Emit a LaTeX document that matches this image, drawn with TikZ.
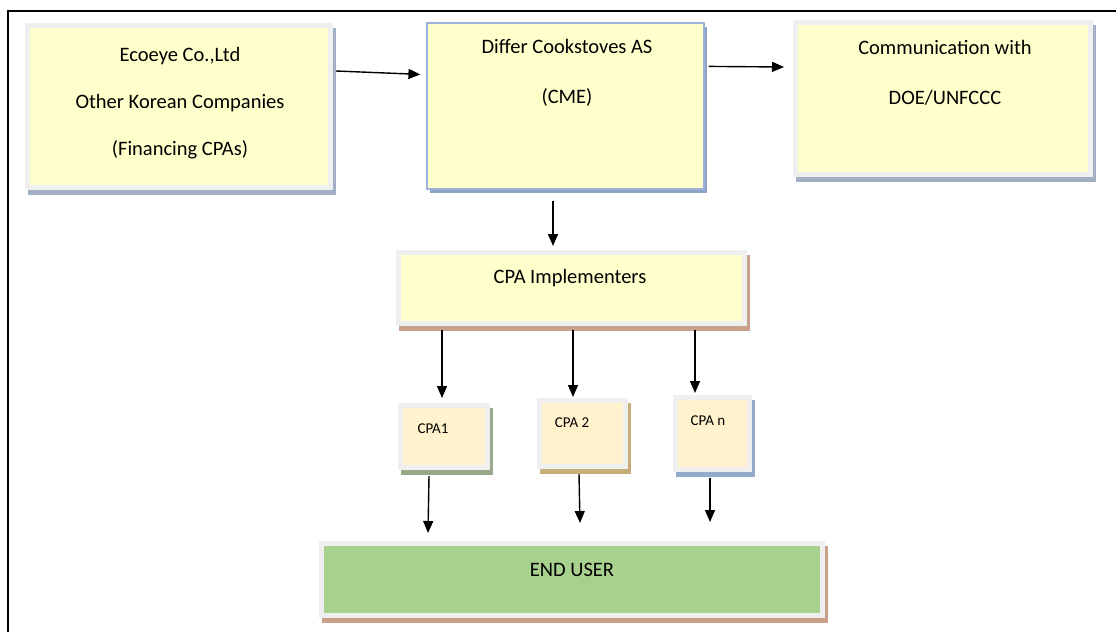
\documentclass[tikz,border=0pt]{standalone}
\usepackage{fontspec}
\setmainfont{Carlito}
\usepackage{tikz}
\usetikzlibrary{arrows.meta, shadows}

\definecolor{boxyellow}{HTML}{FFFFCC}
\definecolor{cpayellow}{HTML}{FFF2CC}
\definecolor{usergreen}{HTML}{A9D18E}
\definecolor{framegray}{HTML}{EFEFEF}
\definecolor{shblue}{HTML}{A3AFC4}
\definecolor{shdeep}{HTML}{8FA3C8}
\definecolor{shbrown}{HTML}{C9A08A}
\definecolor{shgreen}{HTML}{98A888}
\definecolor{shtan}{HTML}{C6AE78}
\definecolor{shsky}{HTML}{93AACB}
\definecolor{cmeline}{HTML}{9DB3DB}

\tikzset{
  panel/.style 2 args={fill=framegray, inner sep=0pt, outer sep=0pt,
    drop shadow={shadow xshift=3pt, shadow yshift=-5pt, fill=#2, opacity=1},
    path picture={\fill[#1] ([shift={(5pt,5pt)}]path picture bounding box.south west)
      rectangle ([shift={(-5pt,-5pt)}]path picture bounding box.north east);}},
  bigtext/.style={font=\fontsize{20.5}{47}\selectfont, align=center},
  smalltext/.style={font=\fontsize{15}{18}\selectfont},
  arr/.style={-{Triangle[length=12pt,width=10pt]}, line width=1.4pt}
}

\begin{document}
\begin{tikzpicture}[x=1pt, y=-1pt]
\useasboundingbox (0,0) rectangle (1116,632);
\draw[line width=2.5pt] (8,632) -- (8,11) -- (1116,11);
% top row
\node(fin) at (179,106.5) [panel={boxyellow}{shblue}, minimum width=308, minimum height=167] {};
\node(cme) at (565.5,106) [fill=boxyellow, draw=cmeline, line width=1.2pt, inner sep=0pt,
  drop shadow={shadow xshift=3pt, shadow yshift=-4pt, fill=shdeep, opacity=1},
  minimum width=277, minimum height=166] {};
\node(doe) at (943,98.5) [panel={boxyellow}{shblue}, minimum width=300, minimum height=157] {};
\node(fintext) at (180,103) [bigtext] {Ecoeye Co.,Ltd\\Other Korean Companies\\(Financing CPAs)};
\node(cmetext) at (567,73) [bigtext, font=\fontsize{20.5}{50}\selectfont] {Differ Cookstoves AS\\(CME)};
\node(doetext) at (945,73) [bigtext, font=\fontsize{20.5}{50}\selectfont] {Communication with\\DOE/UNFCCC};
% implementers
\node(impl) at (571.5,288) [panel={boxyellow}{shbrown}, minimum width=351, minimum height=76] {};
\node(impltext) at (570,278) [bigtext] {CPA Implementers};
% CPAs
\node(cpa1) at (444,436.5) [panel={cpayellow}{shgreen}, minimum width=92, minimum height=67] {};
\node(cpa2) at (582.5,433.5) [panel={cpayellow}{shtan}, minimum width=91, minimum height=71] {};
\node(cpan) at (712.5,433.5) [panel={cpayellow}{shsky}, minimum width=79, minimum height=77] {};
\node(cpa1text) at (433,429) [smalltext] {CPA1};
\node(cpa2text) at (572,423) [smalltext] {CPA 2};
\node(cpantext) at (708,421) [smalltext] {CPA n};
% end user
\node(endu) at (572,579.5) [panel={usergreen}{shbrown}, minimum width=506, minimum height=77] {};
\node(endutext) at (572,570) [bigtext] {END USER};
%
\draw[arr] ([xshift=3pt,yshift=-48pt]fin.north east) -- ([xshift=-6pt,yshift=-52pt]cme.north west);
\draw[arr] ([xshift=4pt,yshift=-44pt]cme.north east) -- ([xshift=-9pt,yshift=-47pt]doe.north west);
\draw[arr] ([xshift=-12.5pt,yshift=-11pt]cme.south) -- ([xshift=-18.5pt,yshift=4pt]impl.north);
\draw[arr] ([xshift=-129.5pt,yshift=-4pt]impl.south) -- ([xshift=-2pt,yshift=5pt]cpa1.north);
\draw[arr] ([xshift=1.5pt,yshift=-4pt]impl.south) -- ([xshift=-9.5pt,yshift=1pt]cpa2.north);
\draw[arr] ([xshift=123.5pt,yshift=-4pt]impl.south) -- ([xshift=-17.5pt,yshift=2pt]cpan.north);
\draw[arr] ([xshift=-15pt,yshift=-6pt]cpa1.south) -- ([xshift=-144pt,yshift=8pt]endu.north);
\draw[arr] ([xshift=-3.5pt,yshift=-5pt]cpa2.south) -- ([xshift=8pt,yshift=18pt]endu.north);
\draw[arr] ([xshift=-2.5pt,yshift=-6pt]cpan.south) -- ([xshift=138pt,yshift=19pt]endu.north);
\end{tikzpicture}
\end{document}
